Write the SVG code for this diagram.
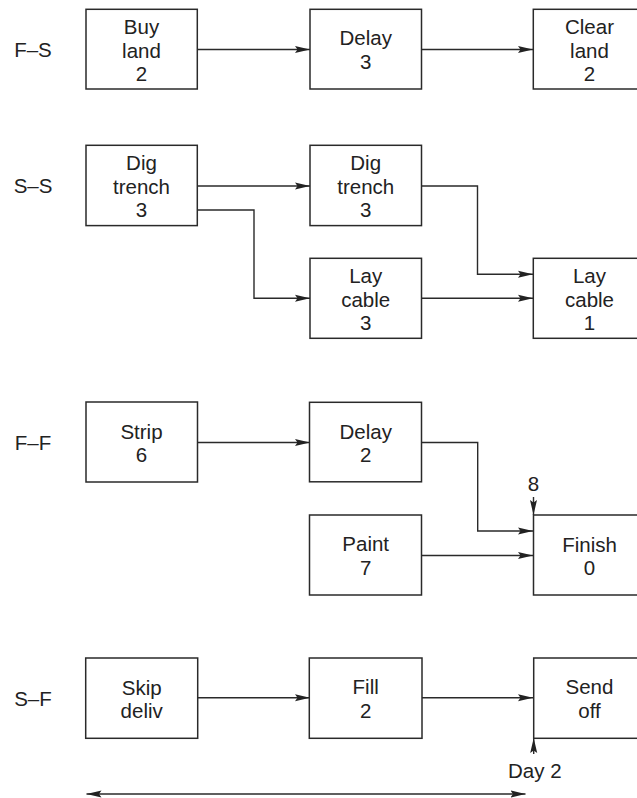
<svg xmlns="http://www.w3.org/2000/svg" width="637" height="798" viewBox="0 0 637 798">
<style>
  .box { fill: #fff; stroke: #2a2a2a; stroke-width: 1.5; }
  .t { font-family: "Liberation Sans", Arial, sans-serif; font-size: 20.5px; fill: #222; text-anchor: middle; }
  .c { fill: none; stroke: #2a2a2a; stroke-width: 1.4; }
</style>
<defs>
  <marker id="ah" markerUnits="userSpaceOnUse" markerWidth="16" markerHeight="8" refX="15" refY="4" orient="auto-start-reverse">
    <path d="M0,0.5 L15,4 L0,7.5 L2.5,4 Z" fill="#222"/>
  </marker>
</defs>
<rect width="637" height="798" fill="#fff"/>

<g id="labels">
  <text class="t" x="33" y="57.3">F–S</text>
  <text class="t" x="33" y="193.3">S–S</text>
  <text class="t" x="33" y="450">F–F</text>
  <text class="t" x="33" y="706">S–F</text>
</g>

<g id="connectors">
  <line class="c" x1="197" y1="49.5" x2="310" y2="49.5" marker-end="url(#ah)"/>
  <line class="c" x1="421" y1="49.5" x2="533" y2="49.5" marker-end="url(#ah)"/>
  <line class="c" x1="197" y1="186" x2="310" y2="186" marker-end="url(#ah)"/>
  <polyline class="c" points="197,210 254,210 254,298.3 310,298.3" marker-end="url(#ah)"/>
  <polyline class="c" points="421,186 477.5,186 477.5,274.3 533,274.3" marker-end="url(#ah)"/>
  <line class="c" x1="421" y1="298.3" x2="533" y2="298.3" marker-end="url(#ah)"/>
  <line class="c" x1="197" y1="442.5" x2="310" y2="442.5" marker-end="url(#ah)"/>
  <polyline class="c" points="421,442.5 477.7,442.5 477.7,531 533,531" marker-end="url(#ah)"/>
  <line class="c" x1="421" y1="555.5" x2="533" y2="555.5" marker-end="url(#ah)"/>
  <line class="c" x1="533.5" y1="497" x2="533.5" y2="515" marker-end="url(#ah)"/>
  <line class="c" x1="197" y1="697.7" x2="310" y2="697.7" marker-end="url(#ah)"/>
  <line class="c" x1="421" y1="697.7" x2="533" y2="697.7" marker-end="url(#ah)"/>
  <line class="c" x1="533.7" y1="754" x2="533.7" y2="738" marker-end="url(#ah)"/>
  <line class="c" x1="86.5" y1="794" x2="525.5" y2="794" marker-start="url(#ah)" marker-end="url(#ah)"/>
</g>

<g id="buy-land">
  <rect class="box" x="86" y="9.3" width="111.3" height="79.7"/>
  <text class="t" x="141.5" y="34.3">Buy</text>
  <text class="t" x="141.5" y="57.8">land</text>
  <text class="t" x="141.5" y="81.4">2</text>
</g>
<g id="delay-3">
  <rect class="box" x="310" y="9.3" width="111.5" height="79.7"/>
  <text class="t" x="365.7" y="45">Delay</text>
  <text class="t" x="365.7" y="68.5">3</text>
</g>
<g id="clear-land">
  <rect class="box" x="533.3" y="9.3" width="111.5" height="79.7"/>
  <text class="t" x="589.5" y="34.3">Clear</text>
  <text class="t" x="589.5" y="57.8">land</text>
  <text class="t" x="589.5" y="81.4">2</text>
</g>

<g id="dig-trench-1">
  <rect class="box" x="86" y="145.3" width="111.3" height="80.3"/>
  <text class="t" x="141.5" y="170">Dig</text>
  <text class="t" x="141.5" y="193.5">trench</text>
  <text class="t" x="141.5" y="217.2">3</text>
</g>
<g id="dig-trench-2">
  <rect class="box" x="310" y="145.3" width="111.5" height="80.3"/>
  <text class="t" x="365.7" y="170">Dig</text>
  <text class="t" x="365.7" y="193.5">trench</text>
  <text class="t" x="365.7" y="217.2">3</text>
</g>
<g id="lay-cable-3">
  <rect class="box" x="310" y="258.3" width="111.5" height="80"/>
  <text class="t" x="365.7" y="283">Lay</text>
  <text class="t" x="365.7" y="306.5">cable</text>
  <text class="t" x="365.7" y="330">3</text>
</g>
<g id="lay-cable-1">
  <rect class="box" x="533.3" y="258.3" width="111.5" height="80"/>
  <text class="t" x="589.5" y="283">Lay</text>
  <text class="t" x="589.5" y="306.5">cable</text>
  <text class="t" x="589.5" y="330">1</text>
</g>

<g id="strip">
  <rect class="box" x="86" y="402" width="111.5" height="80"/>
  <text class="t" x="141.5" y="439">Strip</text>
  <text class="t" x="141.5" y="462.3">6</text>
</g>
<g id="delay-2">
  <rect class="box" x="309.5" y="402.3" width="112" height="79.5"/>
  <text class="t" x="365.7" y="438.5">Delay</text>
  <text class="t" x="365.7" y="462">2</text>
</g>
<g id="paint">
  <rect class="box" x="309.5" y="515" width="112" height="80"/>
  <text class="t" x="365.7" y="551">Paint</text>
  <text class="t" x="365.7" y="574.5">7</text>
</g>
<g id="finish">
  <rect class="box" x="533.5" y="515" width="111.5" height="80"/>
  <text class="t" x="589.5" y="551.7">Finish</text>
  <text class="t" x="589.5" y="575.3">0</text>
</g>
<g id="label-8">
  <text class="t" x="533.5" y="491">8</text>
</g>

<g id="skip-deliv">
  <rect class="box" x="85.7" y="658" width="112" height="80.3"/>
  <text class="t" x="141.7" y="694.7">Skip</text>
  <text class="t" x="141.7" y="718.2">deliv</text>
</g>
<g id="fill">
  <rect class="box" x="309.3" y="658" width="112.7" height="80.3"/>
  <text class="t" x="365.7" y="694.3">Fill</text>
  <text class="t" x="365.7" y="717.7">2</text>
</g>
<g id="send-off">
  <rect class="box" x="533.7" y="658" width="111.5" height="80.3"/>
  <text class="t" x="589.5" y="694.3">Send</text>
  <text class="t" x="589.5" y="717.7">off</text>
</g>
<g id="day-2">
  <text class="t" x="534.8" y="778.3">Day 2</text>
</g>
</svg>
